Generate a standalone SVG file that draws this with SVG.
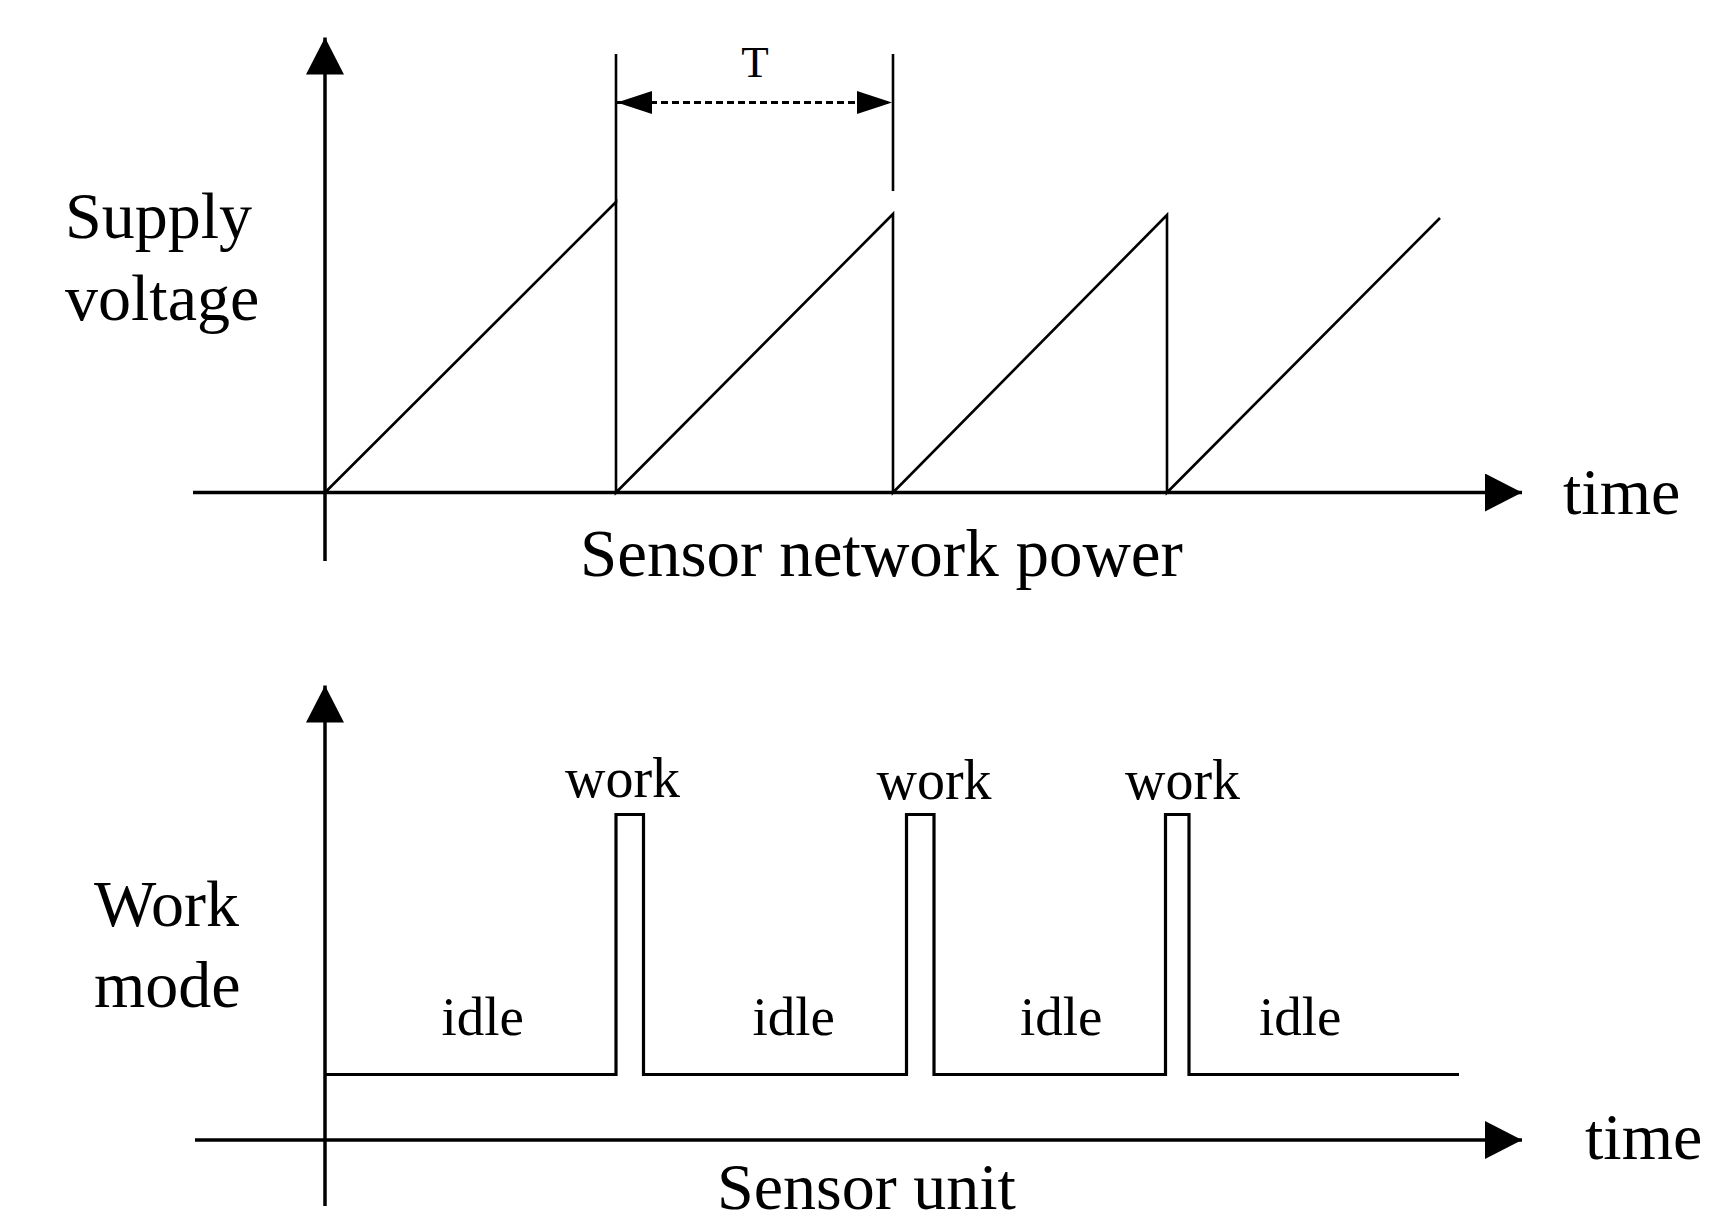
<svg xmlns="http://www.w3.org/2000/svg" width="1721" height="1224" viewBox="0 0 1721 1224">
<style>
text{font-family:"Liberation Serif","Times New Roman",serif;fill:#000}
.axis{stroke:#000;stroke-width:3.5;fill:none}
.sig{stroke:#000;stroke-width:2.6;fill:none;stroke-linejoin:miter}
.pulse{stroke:#000;stroke-width:3.2;fill:none;stroke-linejoin:miter}
.dim{stroke:#000;stroke-width:2.6;fill:none}
.dash{stroke:#000;stroke-width:3;fill:none;stroke-dasharray:7 4}
.big{font-size:66px}
.lbl{font-size:67px}
.work{font-size:56px}
.idle{font-size:55px}
</style>
<defs>
<marker id="ah" markerUnits="userSpaceOnUse" markerWidth="37" markerHeight="38" viewBox="0 0 37 38" refX="37" refY="19" orient="auto"><path d="M0,0 L37,19 L0,38 z" fill="#000"/></marker>
<marker id="ahs" markerUnits="userSpaceOnUse" markerWidth="35" markerHeight="23" viewBox="0 0 35 23" refX="35" refY="11.5" orient="auto-start-reverse"><path d="M0,0 L35,11.5 L0,23 z" fill="#000"/></marker>
</defs>
<g id="connectors">
<line id="top-y-axis" class="axis" x1="325" y1="561" x2="325" y2="37.5" marker-end="url(#ah)"/>
<line id="top-x-axis" class="axis" x1="193" y1="492.5" x2="1522" y2="492.5" marker-end="url(#ah)"/>
<polyline id="sawtooth" class="sig" points="325,492.5 616,202 616,492.5 893,214 893,492.5 1167,215 1167,492.5 1440,218"/>
<line id="dim-left" class="dim" x1="616" y1="54" x2="616" y2="203"/>
<line id="dim-right" class="dim" x1="893" y1="54" x2="893" y2="191"/>
<line id="period" class="dash" x1="617" y1="102.5" x2="892" y2="102.5" marker-start="url(#ahs)" marker-end="url(#ahs)"/>
<line id="bot-y-axis" class="axis" x1="325" y1="1206" x2="325" y2="685.5" marker-end="url(#ah)"/>
<line id="bot-x-axis" class="axis" x1="195" y1="1140" x2="1522" y2="1140" marker-end="url(#ah)"/>
<polyline id="workmode" class="pulse" points="325,1074.5 616,1074.5 616,814.5 643.5,814.5 643.5,1074.5 906.5,1074.5 906.5,814.5 934,814.5 934,1074.5 1165.5,1074.5 1165.5,814.5 1189,814.5 1189,1074.5 1459,1074.5"/>
</g>
<g id="label-T"><text x="755" y="77" font-size="45" text-anchor="middle">T</text></g>
<g id="label-supply"><text class="big" x="65" y="238">Supply</text><text class="big" x="65" y="320">voltage</text></g>
<g id="label-power"><text class="lbl" x="580" y="576">Sensor network power</text></g>
<g id="label-time1"><text class="big" x="1563" y="514">time</text></g>
<g id="label-workmode"><text class="big" x="94" y="926">Work</text><text class="big" x="94" y="1007">mode</text></g>
<g id="label-work"><text class="work" x="565" y="797">work</text><text class="work" x="876.5" y="799">work</text><text class="work" x="1125" y="799">work</text></g>
<g id="label-idle"><text class="idle" x="441.5" y="1035">idle</text><text class="idle" x="752.5" y="1035">idle</text><text class="idle" x="1020" y="1035">idle</text><text class="idle" x="1259" y="1035">idle</text></g>
<g id="label-unit"><text x="717" y="1209" font-size="66">Sensor unit</text></g>
<g id="label-time2"><text class="big" x="1585" y="1159">time</text></g>
</svg>
